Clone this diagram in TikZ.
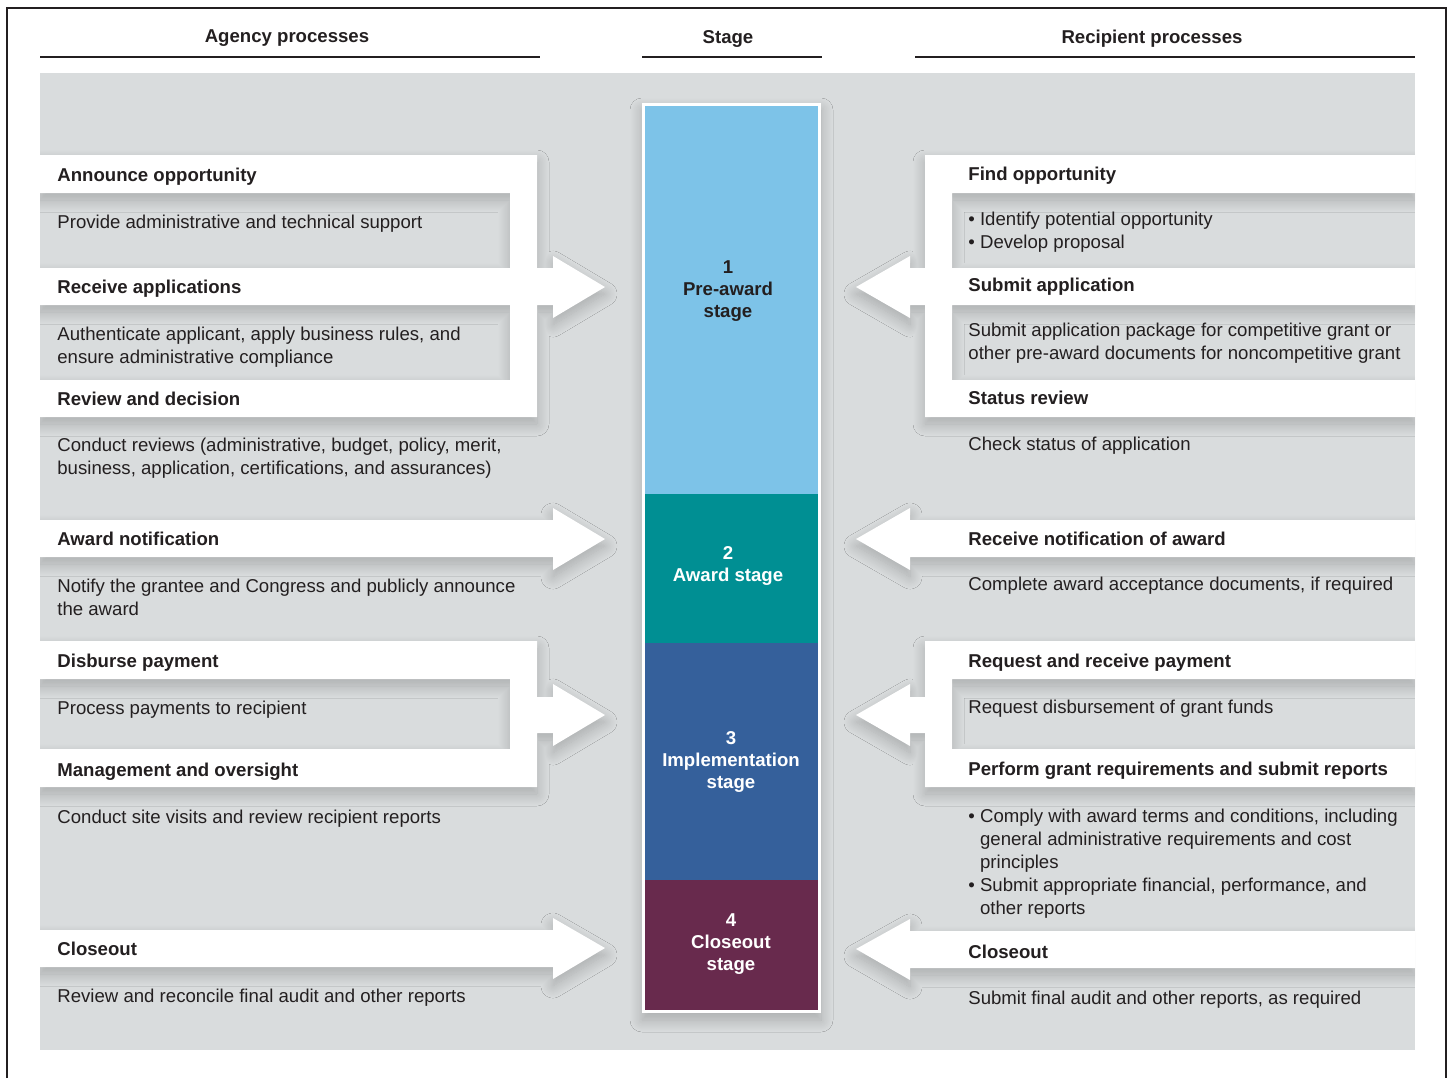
\documentclass[tikz,border=0pt]{standalone}
\usepackage{fontspec}
\setmainfont{Liberation Sans}
\usetikzlibrary{shadows.blur}
\definecolor{panel}{HTML}{D9DCDD}
\definecolor{ink}{HTML}{231F20}
\definecolor{preaward}{HTML}{7DC3E8}
\definecolor{award}{HTML}{008F93}
\definecolor{implement}{HTML}{35609B}
\definecolor{closeout}{HTML}{682A4D}

\begin{document}
\begin{tikzpicture}[x=0.5pt,y=-0.5pt]
		\tikzstyle{every node}+=[inner sep=0pt, text=ink, font=\fontsize{9.3}{11.5}\selectfont]
		\tikzstyle{heading}=[anchor=base, font=\fontsize{9.3}{11.5}\selectfont\bfseries]
		\tikzstyle{stepname}=[anchor=base west, font=\fontsize{9.3}{11.5}\selectfont\bfseries]
		\tikzstyle{stepnote}=[anchor=base west, align=left]
		\tikzstyle{stagelabel}=[align=center, font=\fontsize{9.3}{10.8}\selectfont\bfseries]
		\tikzstyle{band}=[fill=white, blur shadow={shadow xshift=0pt, shadow yshift=-3.5pt, shadow blur radius=6pt, shadow blur steps=16, shadow opacity=22}]
		\tikzstyle{rulebar}=[ink, line width=1.3pt]
		\useasboundingbox (0,0) rectangle (1452,1078);
		\draw [ink, line width=0.6pt] (7,1078) -- (7,8) -- (1446,8) -- (1446,1078);
		% headings
		\node [heading] (agency) at (287,42) {Agency processes};
		\node [heading] (stage) at (728,43) {Stage};
		\node [heading] (recipient) at (1152,43) {Recipient processes};
		\draw [rulebar] (40,57) -- (540,57);
		\draw [rulebar] (642,57) -- (822,57);
		\draw [rulebar] (915,57) -- (1415,57);
		\fill [panel] (40,73) rectangle (1415,1050);
		\begin{scope}
		\clip (40,73) rectangle (1415,1050);
		% agency side
		\fill [band] (40,155) -- (537,155) -- (537,268) -- (553,268) -- (553,256) -- (605,287) -- (553,318) -- (553,305) -- (537,305) -- (537,417) -- (40,417) -- (40,380) -- (510,380) -- (510,305) -- (40,305) -- (40,268) -- (510,268) -- (510,193) -- (40,193) -- cycle;
		\fill [band] (40,520) -- (553,520) -- (553,508) -- (605,539) -- (553,570) -- (553,557) -- (40,557) -- cycle;
		\fill [band] (40,641) -- (537,641) -- (537,697) -- (553,697) -- (553,684) -- (605,715) -- (553,746) -- (553,733) -- (537,733) -- (537,787) -- (40,787) -- (40,749) -- (510,749) -- (510,679) -- (40,679) -- cycle;
		\fill [band] (40,930) -- (553,930) -- (553,918) -- (605,948) -- (553,979) -- (553,967) -- (40,967) -- cycle;
		% recipient side
		\fill [band] (1415,155) -- (925,155) -- (925,268) -- (910,268) -- (910,256) -- (856,287) -- (910,318) -- (910,305) -- (925,305) -- (925,417) -- (1415,417) -- (1415,380) -- (952,380) -- (952,305) -- (1415,305) -- (1415,268) -- (952,268) -- (952,193) -- (1415,193) -- cycle;
		\fill [band] (1415,520) -- (910,520) -- (910,508) -- (856,539) -- (910,570) -- (910,557) -- (1415,557) -- cycle;
		\fill [band] (1415,641) -- (925,641) -- (925,697) -- (910,697) -- (910,684) -- (856,715) -- (910,746) -- (910,733) -- (925,733) -- (925,787) -- (1415,787) -- (1415,749) -- (952,749) -- (952,679) -- (1415,679) -- cycle;
		\fill [band] (1415,931) -- (910,931) -- (910,919) -- (856,949) -- (910,980) -- (910,968) -- (1415,968) -- cycle;
		% stage bar
		\fill [band] (642,103) rectangle (821,1013);
		\end{scope}
		\fill [preaward] (645,106) rectangle (818,494);
		\fill [award] (645,494) rectangle (818,643);
		\fill [implement] (645,643) rectangle (818,880);
		\fill [closeout] (645,880) rectangle (818,1010);
		\node [stagelabel] (pre) at (728,291) {1\\Pre-award\\stage};
		\node [stagelabel, text=white] (awd) at (728,566) {2\\Award stage};
		\node [stagelabel, text=white] (impl) at (731,762) {3\\Implementation\\stage};
		\node [stagelabel, text=white] (close) at (731,944) {4\\Closeout\\stage};
		% agency text (multi-line notes sit on their last baseline)
		\node [stepname] (announce) at (57,181) {Announce opportunity};
		\node [stepnote] (support) at (57,228) {Provide administrative and technical support};
		\node [stepname] (receive) at (57,293) {Receive applications};
		\node [stepnote] (authent) at (57,363) {Authenticate applicant, apply business rules, and\\ensure administrative compliance};
		\node [stepname] (decision) at (57,405) {Review and decision};
		\node [stepnote] (reviews) at (57,474) {Conduct reviews (administrative, budget, policy, merit,\\business, application, certifications, and assurances)};
		\node [stepname] (notif) at (57,545) {Award notification};
		\node [stepnote] (notify) at (57,615) {Notify the grantee and Congress and publicly announce\\the award};
		\node [stepname] (disburse) at (57,667) {Disburse payment};
		\node [stepnote] (process) at (57,714) {Process payments to recipient};
		\node [stepname] (oversight) at (57,776) {Management and oversight};
		\node [stepnote] (visits) at (57,823) {Conduct site visits and review recipient reports};
		\node [stepname] (aclose) at (57,955) {Closeout};
		\node [stepnote] (reconcile) at (57,1002) {Review and reconcile final audit and other reports};
		% recipient text
		\node [stepname] (find) at (968,180) {Find opportunity};
		\node [stepnote] (identify) at (968,248) {\textbullet\ Identify potential opportunity\\\textbullet\ Develop proposal};
		\node [stepname] (submit) at (968,291) {Submit application};
		\node [stepnote] (package) at (968,359) {Submit application package for competitive grant or\\other pre-award documents for noncompetitive grant};
		\node [stepname] (status) at (968,404) {Status review};
		\node [stepnote] (check) at (968,450) {Check status of application};
		\node [stepname] (rnotif) at (968,545) {Receive notification of award};
		\node [stepnote] (accept) at (968,590) {Complete award acceptance documents, if required};
		\node [stepname] (request) at (968,667) {Request and receive payment};
		\node [stepnote] (funds) at (968,713) {Request disbursement of grant funds};
		\node [stepname] (perform) at (968,775) {Perform grant requirements and submit reports};
		\node [stepnote] (comply) at (968,914) {\textbullet\ Comply with award terms and conditions, including\\\hphantom{\textbullet\ }general administrative requirements and cost\\\hphantom{\textbullet\ }principles\\\textbullet\ Submit appropriate financial, performance, and\\\hphantom{\textbullet\ }other reports};
		\node [stepname] (rclose) at (968,958) {Closeout};
		\node [stepnote] (final) at (968,1004) {Submit final audit and other reports, as required};
\end{tikzpicture}
\end{document}
